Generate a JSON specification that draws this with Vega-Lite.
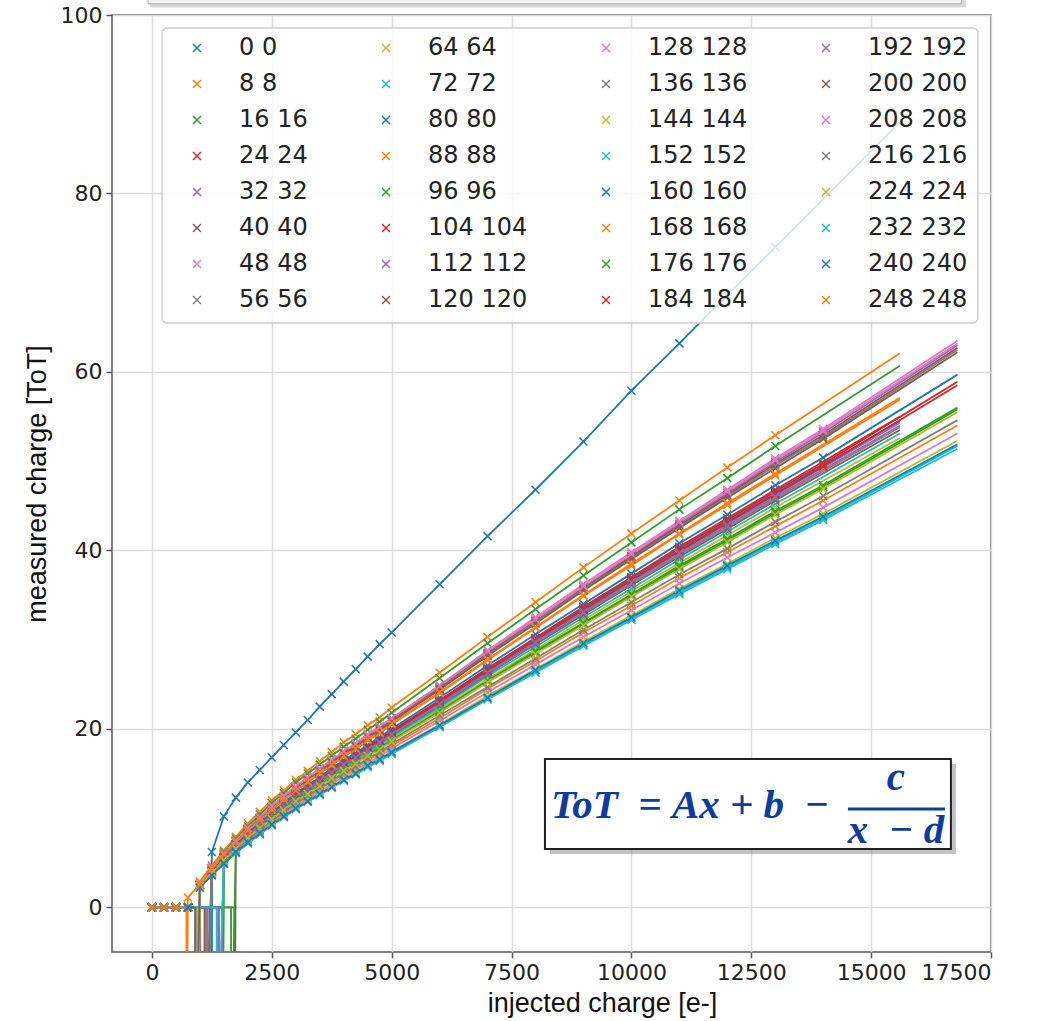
{
"$schema":"https://vega.github.io/schema/vega-lite/v6.json",
"width":879,"height":937,
"autosize":{"type":"none"},
"padding":{"left":112,"top":15,"right":69,"bottom":69},
"background":"white",
"config":{
"view":{"stroke":"#555555","strokeWidth":1.5},
"axis":{"labelFont":"DejaVu Sans","labelFontSize":22,"labelColor":"#222222","titleFont":"Liberation Sans","titleFontSize":27,"titleFontWeight":"normal","titleColor":"#111111","gridColor":"#dcdcdc","gridWidth":1.5,"domain":false,"tickColor":"#555555","tickSize":6,"tickWidth":1.5,"labelPadding":4}
},
"datasets":{"d":[
{"s":0,"x":0,"y":0},{"s":0,"x":250,"y":0},{"s":0,"x":500,"y":0},{"s":0,"x":750,"y":0},{"s":0,"x":1200,"y":0,"k":1},{"s":0,"x":1201,"y":-20,"k":1},
{"s":0,"x":1250,"y":6.2},{"s":0,"x":1500,"y":10.2},{"s":0,"x":1750,"y":12.3},{"s":0,"x":2000,"y":14.0},{"s":0,"x":2250,"y":15.4},{"s":0,"x":2500,"y":16.8},{"s":0,"x":2750,"y":18.2},{"s":0,"x":3000,"y":19.6},{"s":0,"x":3250,"y":21.0},{"s":0,"x":3500,"y":22.5},{"s":0,"x":3750,"y":23.9},{"s":0,"x":4000,"y":25.3},{"s":0,"x":4250,"y":26.7},{"s":0,"x":4500,"y":28.1},{"s":0,"x":4750,"y":29.5},{"s":0,"x":5000,"y":30.8},{"s":0,"x":6000,"y":36.2},{"s":0,"x":7000,"y":41.6},{"s":0,"x":8000,"y":46.8},{"s":0,"x":9000,"y":52.2},{"s":0,"x":10000,"y":57.9},{"s":0,"x":11000,"y":63.2},{"s":0,"x":12000,"y":68.6},{"s":0,"x":13000,"y":74.0},{"s":0,"x":15600,"y":88.0,"k":1},

{"s":8,"x":0,"y":0},{"s":8,"x":250,"y":0},{"s":8,"x":500,"y":0},{"s":8,"x":750,"y":0},{"s":8,"x":950,"y":0,"k":1},{"s":8,"x":951,"y":-20,"k":1},
{"s":8,"x":1000,"y":2.9},{"s":8,"x":1250,"y":4.7},{"s":8,"x":1500,"y":6.4},{"s":8,"x":1750,"y":7.9},{"s":8,"x":2000,"y":9.4},{"s":8,"x":2250,"y":10.7},{"s":8,"x":2500,"y":12.0},{"s":8,"x":2750,"y":13.1},{"s":8,"x":3000,"y":14.3},{"s":8,"x":3250,"y":15.3},{"s":8,"x":3500,"y":16.4},{"s":8,"x":3750,"y":17.4},{"s":8,"x":4000,"y":18.5},{"s":8,"x":4250,"y":19.4},{"s":8,"x":4500,"y":20.4},{"s":8,"x":4750,"y":21.3},{"s":8,"x":5000,"y":22.4},{"s":8,"x":6000,"y":26.3},{"s":8,"x":7000,"y":30.3},{"s":8,"x":8000,"y":34.2},{"s":8,"x":9000,"y":38.1},{"s":8,"x":10000,"y":41.9},{"s":8,"x":11000,"y":45.6},{"s":8,"x":12000,"y":49.3},{"s":8,"x":13000,"y":52.9},{"s":8,"x":15600,"y":62.1,"k":1},

{"s":16,"x":0,"y":0},{"s":16,"x":250,"y":0},{"s":16,"x":500,"y":0},{"s":16,"x":750,"y":0},{"s":16,"x":1480,"y":0,"k":1},{"s":16,"x":1481,"y":-20,"k":1},
{"s":16,"x":1500,"y":6.2},{"s":16,"x":1750,"y":7.7},{"s":16,"x":2000,"y":9.1},{"s":16,"x":2250,"y":10.4},{"s":16,"x":2500,"y":11.7},{"s":16,"x":2750,"y":12.8},{"s":16,"x":3000,"y":14.0},{"s":16,"x":3250,"y":15.0},{"s":16,"x":3500,"y":16.0},{"s":16,"x":3750,"y":17.0},{"s":16,"x":4000,"y":18.0},{"s":16,"x":4250,"y":18.9},{"s":16,"x":4500,"y":19.9},{"s":16,"x":4750,"y":20.8},{"s":16,"x":5000,"y":21.8},{"s":16,"x":6000,"y":25.7},{"s":16,"x":7000,"y":29.6},{"s":16,"x":8000,"y":33.4},{"s":16,"x":9000,"y":37.2},{"s":16,"x":10000,"y":40.9},{"s":16,"x":11000,"y":44.6},{"s":16,"x":12000,"y":48.1},{"s":16,"x":13000,"y":51.7},{"s":16,"x":15600,"y":60.7,"k":1},

{"s":24,"x":0,"y":0},{"s":24,"x":250,"y":0},{"s":24,"x":500,"y":0},{"s":24,"x":750,"y":0},{"s":24,"x":960,"y":0,"k":1},{"s":24,"x":961,"y":-20,"k":1},
{"s":24,"x":1000,"y":2.5},{"s":24,"x":1250,"y":4.1},{"s":24,"x":1500,"y":5.6},{"s":24,"x":1750,"y":7.0},{"s":24,"x":2000,"y":8.2},{"s":24,"x":2250,"y":9.4},{"s":24,"x":2500,"y":10.5},{"s":24,"x":2750,"y":11.6},{"s":24,"x":3000,"y":12.6},{"s":24,"x":3250,"y":13.5},{"s":24,"x":3500,"y":14.4},{"s":24,"x":3750,"y":15.3},{"s":24,"x":4000,"y":16.3},{"s":24,"x":4250,"y":17.1},{"s":24,"x":4500,"y":18.0},{"s":24,"x":4750,"y":18.8},{"s":24,"x":5000,"y":19.7},{"s":24,"x":6000,"y":23.1},{"s":24,"x":7000,"y":26.7},{"s":24,"x":8000,"y":30.1},{"s":24,"x":9000,"y":33.5},{"s":24,"x":10000,"y":36.9},{"s":24,"x":11000,"y":40.2},{"s":24,"x":12000,"y":43.4},{"s":24,"x":13000,"y":46.6},{"s":24,"x":14000,"y":49.7},{"s":24,"x":16800,"y":58.9,"k":1},

{"s":32,"x":0,"y":0},{"s":32,"x":250,"y":0},{"s":32,"x":500,"y":0},{"s":32,"x":750,"y":0},{"s":32,"x":1200,"y":0,"k":1},{"s":32,"x":1201,"y":-20,"k":1},
{"s":32,"x":1250,"y":4.4},{"s":32,"x":1500,"y":6.0},{"s":32,"x":1750,"y":7.5},{"s":32,"x":2000,"y":8.8},{"s":32,"x":2250,"y":10.0},{"s":32,"x":2500,"y":11.3},{"s":32,"x":2750,"y":12.4},{"s":32,"x":3000,"y":13.5},{"s":32,"x":3250,"y":14.5},{"s":32,"x":3500,"y":15.4},{"s":32,"x":3750,"y":16.4},{"s":32,"x":4000,"y":17.4},{"s":32,"x":4250,"y":18.3},{"s":32,"x":4500,"y":19.2},{"s":32,"x":4750,"y":20.1},{"s":32,"x":5000,"y":21.1},{"s":32,"x":6000,"y":24.7},{"s":32,"x":7000,"y":28.5},{"s":32,"x":8000,"y":32.2},{"s":32,"x":9000,"y":35.9},{"s":32,"x":10000,"y":39.4},{"s":32,"x":11000,"y":43.0},{"s":32,"x":12000,"y":46.4},{"s":32,"x":13000,"y":49.9},{"s":32,"x":14000,"y":53.2},{"s":32,"x":16800,"y":63.0,"k":1},

{"s":40,"x":0,"y":0},{"s":40,"x":250,"y":0},{"s":40,"x":500,"y":0},{"s":40,"x":750,"y":0},{"s":40,"x":1720,"y":0,"k":1},{"s":40,"x":1721,"y":-20,"k":1},
{"s":40,"x":1750,"y":7.4},{"s":40,"x":2000,"y":8.8},{"s":40,"x":2250,"y":10.0},{"s":40,"x":2500,"y":11.2},{"s":40,"x":2750,"y":12.3},{"s":40,"x":3000,"y":13.4},{"s":40,"x":3250,"y":14.4},{"s":40,"x":3500,"y":15.4},{"s":40,"x":3750,"y":16.3},{"s":40,"x":4000,"y":17.3},{"s":40,"x":4250,"y":18.2},{"s":40,"x":4500,"y":19.2},{"s":40,"x":4750,"y":20.0},{"s":40,"x":5000,"y":21.0},{"s":40,"x":6000,"y":24.6},{"s":40,"x":7000,"y":28.4},{"s":40,"x":8000,"y":32.1},{"s":40,"x":9000,"y":35.7},{"s":40,"x":10000,"y":39.3},{"s":40,"x":11000,"y":42.8},{"s":40,"x":12000,"y":46.2},{"s":40,"x":13000,"y":49.7},{"s":40,"x":14000,"y":52.9},{"s":40,"x":16800,"y":62.7,"k":1},

{"s":48,"x":0,"y":0},{"s":48,"x":250,"y":0},{"s":48,"x":500,"y":0},{"s":48,"x":750,"y":0},{"s":48,"x":1150,"y":0,"k":1},{"s":48,"x":1151,"y":-20,"k":1},
{"s":48,"x":1250,"y":4.4},{"s":48,"x":1500,"y":6.1},{"s":48,"x":1750,"y":7.5},{"s":48,"x":2000,"y":8.9},{"s":48,"x":2250,"y":10.1},{"s":48,"x":2500,"y":11.4},{"s":48,"x":2750,"y":12.5},{"s":48,"x":3000,"y":13.6},{"s":48,"x":3250,"y":14.6},{"s":48,"x":3500,"y":15.6},{"s":48,"x":3750,"y":16.5},{"s":48,"x":4000,"y":17.5},{"s":48,"x":4250,"y":18.4},{"s":48,"x":4500,"y":19.4},{"s":48,"x":4750,"y":20.3},{"s":48,"x":5000,"y":21.2},{"s":48,"x":6000,"y":24.9},{"s":48,"x":7000,"y":28.8},{"s":48,"x":8000,"y":32.5},{"s":48,"x":9000,"y":36.2},{"s":48,"x":10000,"y":39.8},{"s":48,"x":11000,"y":43.3},{"s":48,"x":12000,"y":46.8},{"s":48,"x":13000,"y":50.3},{"s":48,"x":14000,"y":53.6},{"s":48,"x":16800,"y":63.5,"k":1},

{"s":56,"x":0,"y":0},{"s":56,"x":250,"y":0},{"s":56,"x":500,"y":0},{"s":56,"x":750,"y":0},{"s":56,"x":1100,"y":0,"k":1},{"s":56,"x":1101,"y":-20,"k":1},
{"s":56,"x":1250,"y":4.4},{"s":56,"x":1500,"y":6.0},{"s":56,"x":1750,"y":7.4},{"s":56,"x":2000,"y":8.7},{"s":56,"x":2250,"y":10.0},{"s":56,"x":2500,"y":11.2},{"s":56,"x":2750,"y":12.3},{"s":56,"x":3000,"y":13.4},{"s":56,"x":3250,"y":14.3},{"s":56,"x":3500,"y":15.3},{"s":56,"x":3750,"y":16.3},{"s":56,"x":4000,"y":17.3},{"s":56,"x":4250,"y":18.1},{"s":56,"x":4500,"y":19.1},{"s":56,"x":4750,"y":19.9},{"s":56,"x":5000,"y":20.9},{"s":56,"x":6000,"y":24.5},{"s":56,"x":7000,"y":28.3},{"s":56,"x":8000,"y":32.0},{"s":56,"x":9000,"y":35.6},{"s":56,"x":10000,"y":39.1},{"s":56,"x":11000,"y":42.6},{"s":56,"x":12000,"y":46.0},{"s":56,"x":13000,"y":49.5},{"s":56,"x":14000,"y":52.7},{"s":56,"x":16800,"y":62.5,"k":1},

{"s":64,"x":0,"y":0},{"s":64,"x":250,"y":0},{"s":64,"x":500,"y":0},{"s":64,"x":750,"y":0},{"s":64,"x":930,"y":0,"k":1},{"s":64,"x":931,"y":-20,"k":1},
{"s":64,"x":1000,"y":2.4},{"s":64,"x":1250,"y":4.0},{"s":64,"x":1500,"y":5.4},{"s":64,"x":1750,"y":6.7},{"s":64,"x":2000,"y":7.9},{"s":64,"x":2250,"y":9.0},{"s":64,"x":2500,"y":10.1},{"s":64,"x":2750,"y":11.1},{"s":64,"x":3000,"y":12.1},{"s":64,"x":3250,"y":13.0},{"s":64,"x":3500,"y":13.9},{"s":64,"x":3750,"y":14.7},{"s":64,"x":4000,"y":15.6},{"s":64,"x":4250,"y":16.4},{"s":64,"x":4500,"y":17.3},{"s":64,"x":4750,"y":18.0},{"s":64,"x":5000,"y":18.9},{"s":64,"x":6000,"y":22.2},{"s":64,"x":7000,"y":25.6},{"s":64,"x":8000,"y":28.9},{"s":64,"x":9000,"y":32.2},{"s":64,"x":10000,"y":35.4},{"s":64,"x":11000,"y":38.6},{"s":64,"x":12000,"y":41.7},{"s":64,"x":13000,"y":44.8},{"s":64,"x":15600,"y":52.6,"k":1},

{"s":72,"x":0,"y":0},{"s":72,"x":250,"y":0},{"s":72,"x":500,"y":0},{"s":72,"x":750,"y":0},{"s":72,"x":1230,"y":0,"k":1},{"s":72,"x":1231,"y":-20,"k":1},
{"s":72,"x":1250,"y":4.0},{"s":72,"x":1500,"y":5.4},{"s":72,"x":1750,"y":6.8},{"s":72,"x":2000,"y":8.0},{"s":72,"x":2250,"y":9.1},{"s":72,"x":2500,"y":10.2},{"s":72,"x":2750,"y":11.2},{"s":72,"x":3000,"y":12.2},{"s":72,"x":3250,"y":13.1},{"s":72,"x":3500,"y":14.0},{"s":72,"x":3750,"y":14.9},{"s":72,"x":4000,"y":15.8},{"s":72,"x":4250,"y":16.5},{"s":72,"x":4500,"y":17.4},{"s":72,"x":4750,"y":18.2},{"s":72,"x":5000,"y":19.1},{"s":72,"x":6000,"y":22.4},{"s":72,"x":7000,"y":25.9},{"s":72,"x":8000,"y":29.2},{"s":72,"x":9000,"y":32.5},{"s":72,"x":10000,"y":35.7},{"s":72,"x":11000,"y":39.0},{"s":72,"x":12000,"y":42.1},{"s":72,"x":13000,"y":45.2},{"s":72,"x":15600,"y":53.1,"k":1},

{"s":80,"x":0,"y":0},{"s":80,"x":250,"y":0},{"s":80,"x":500,"y":0},{"s":80,"x":750,"y":0},{"s":80,"x":1210,"y":0,"k":1},{"s":80,"x":1211,"y":-20,"k":1},
{"s":80,"x":1250,"y":4.1},{"s":80,"x":1500,"y":5.6},{"s":80,"x":1750,"y":7.0},{"s":80,"x":2000,"y":8.2},{"s":80,"x":2250,"y":9.3},{"s":80,"x":2500,"y":10.5},{"s":80,"x":2750,"y":11.5},{"s":80,"x":3000,"y":12.5},{"s":80,"x":3250,"y":13.5},{"s":80,"x":3500,"y":14.4},{"s":80,"x":3750,"y":15.3},{"s":80,"x":4000,"y":16.2},{"s":80,"x":4250,"y":17.0},{"s":80,"x":4500,"y":17.9},{"s":80,"x":4750,"y":18.7},{"s":80,"x":5000,"y":19.6},{"s":80,"x":6000,"y":23.0},{"s":80,"x":7000,"y":26.6},{"s":80,"x":8000,"y":30.0},{"s":80,"x":9000,"y":33.4},{"s":80,"x":10000,"y":36.7},{"s":80,"x":11000,"y":40.0},{"s":80,"x":12000,"y":43.2},{"s":80,"x":13000,"y":46.4},{"s":80,"x":15600,"y":54.5,"k":1},

{"s":88,"x":0,"y":0},{"s":88,"x":250,"y":0},{"s":88,"x":500,"y":0},{"s":88,"x":750,"y":0},{"s":88,"x":920,"y":0,"k":1},{"s":88,"x":921,"y":-20,"k":1},
{"s":88,"x":1000,"y":2.3},{"s":88,"x":1250,"y":3.8},{"s":88,"x":1500,"y":5.1},{"s":88,"x":1750,"y":6.4},{"s":88,"x":2000,"y":7.6},{"s":88,"x":2250,"y":8.6},{"s":88,"x":2500,"y":9.7},{"s":88,"x":2750,"y":10.6},{"s":88,"x":3000,"y":11.6},{"s":88,"x":3250,"y":12.4},{"s":88,"x":3500,"y":13.2},{"s":88,"x":3750,"y":14.1},{"s":88,"x":4000,"y":14.9},{"s":88,"x":4250,"y":15.6},{"s":88,"x":4500,"y":16.5},{"s":88,"x":4750,"y":17.2},{"s":88,"x":5000,"y":18.1},{"s":88,"x":6000,"y":21.2},{"s":88,"x":7000,"y":24.5},{"s":88,"x":8000,"y":27.6},{"s":88,"x":9000,"y":30.8},{"s":88,"x":10000,"y":33.8},{"s":88,"x":11000,"y":36.9},{"s":88,"x":12000,"y":39.8},{"s":88,"x":13000,"y":42.7},{"s":88,"x":14000,"y":45.6},{"s":88,"x":16800,"y":54.0,"k":1},

{"s":96,"x":0,"y":0},{"s":96,"x":250,"y":0},{"s":96,"x":500,"y":0},{"s":96,"x":750,"y":0},{"s":96,"x":1650,"y":0,"k":1},{"s":96,"x":1651,"y":-20,"k":1},
{"s":96,"x":1750,"y":6.6},{"s":96,"x":2000,"y":7.8},{"s":96,"x":2250,"y":8.9},{"s":96,"x":2500,"y":10.0},{"s":96,"x":2750,"y":11.0},{"s":96,"x":3000,"y":11.9},{"s":96,"x":3250,"y":12.8},{"s":96,"x":3500,"y":13.7},{"s":96,"x":3750,"y":14.5},{"s":96,"x":4000,"y":15.4},{"s":96,"x":4250,"y":16.2},{"s":96,"x":4500,"y":17.0},{"s":96,"x":4750,"y":17.8},{"s":96,"x":5000,"y":18.7},{"s":96,"x":6000,"y":21.9},{"s":96,"x":7000,"y":25.3},{"s":96,"x":8000,"y":28.5},{"s":96,"x":9000,"y":31.8},{"s":96,"x":10000,"y":34.9},{"s":96,"x":11000,"y":38.1},{"s":96,"x":12000,"y":41.1},{"s":96,"x":13000,"y":44.2},{"s":96,"x":14000,"y":47.1},{"s":96,"x":16800,"y":55.8,"k":1},

{"s":104,"x":0,"y":0},{"s":104,"x":250,"y":0},{"s":104,"x":500,"y":0},{"s":104,"x":750,"y":0},{"s":104,"x":980,"y":0,"k":1},{"s":104,"x":981,"y":-20,"k":1},
{"s":104,"x":1000,"y":2.5},{"s":104,"x":1250,"y":4.1},{"s":104,"x":1500,"y":5.6},{"s":104,"x":1750,"y":7.0},{"s":104,"x":2000,"y":8.3},{"s":104,"x":2250,"y":9.4},{"s":104,"x":2500,"y":10.6},{"s":104,"x":2750,"y":11.6},{"s":104,"x":3000,"y":12.7},{"s":104,"x":3250,"y":13.6},{"s":104,"x":3500,"y":14.5},{"s":104,"x":3750,"y":15.4},{"s":104,"x":4000,"y":16.3},{"s":104,"x":4250,"y":17.1},{"s":104,"x":4500,"y":18.1},{"s":104,"x":4750,"y":18.9},{"s":104,"x":5000,"y":19.8},{"s":104,"x":6000,"y":23.2},{"s":104,"x":7000,"y":26.8},{"s":104,"x":8000,"y":30.2},{"s":104,"x":9000,"y":33.7},{"s":104,"x":10000,"y":37.0},{"s":104,"x":11000,"y":40.4},{"s":104,"x":12000,"y":43.6},{"s":104,"x":13000,"y":46.8},{"s":104,"x":15600,"y":55.0,"k":1},

{"s":112,"x":0,"y":0},{"s":112,"x":250,"y":0},{"s":112,"x":500,"y":0},{"s":112,"x":750,"y":0},{"s":112,"x":1380,"y":0,"k":1},{"s":112,"x":1381,"y":-20,"k":1},
{"s":112,"x":1500,"y":5.6},{"s":112,"x":1750,"y":6.9},{"s":112,"x":2000,"y":8.2},{"s":112,"x":2250,"y":9.3},{"s":112,"x":2500,"y":10.4},{"s":112,"x":2750,"y":11.5},{"s":112,"x":3000,"y":12.5},{"s":112,"x":3250,"y":13.4},{"s":112,"x":3500,"y":14.3},{"s":112,"x":3750,"y":15.2},{"s":112,"x":4000,"y":16.1},{"s":112,"x":4250,"y":16.9},{"s":112,"x":4500,"y":17.8},{"s":112,"x":4750,"y":18.6},{"s":112,"x":5000,"y":19.5},{"s":112,"x":6000,"y":22.9},{"s":112,"x":7000,"y":26.4},{"s":112,"x":8000,"y":29.9},{"s":112,"x":9000,"y":33.3},{"s":112,"x":10000,"y":36.5},{"s":112,"x":11000,"y":39.8},{"s":112,"x":12000,"y":43.0},{"s":112,"x":13000,"y":46.2},{"s":112,"x":15600,"y":54.3,"k":1},

{"s":120,"x":0,"y":0},{"s":120,"x":250,"y":0},{"s":120,"x":500,"y":0},{"s":120,"x":750,"y":0},{"s":120,"x":1240,"y":0,"k":1},{"s":120,"x":1241,"y":-20,"k":1},
{"s":120,"x":1250,"y":4.0},{"s":120,"x":1500,"y":5.5},{"s":120,"x":1750,"y":6.8},{"s":120,"x":2000,"y":8.1},{"s":120,"x":2250,"y":9.2},{"s":120,"x":2500,"y":10.3},{"s":120,"x":2750,"y":11.3},{"s":120,"x":3000,"y":12.3},{"s":120,"x":3250,"y":13.2},{"s":120,"x":3500,"y":14.1},{"s":120,"x":3750,"y":15.0},{"s":120,"x":4000,"y":15.9},{"s":120,"x":4250,"y":16.7},{"s":120,"x":4500,"y":17.6},{"s":120,"x":4750,"y":18.4},{"s":120,"x":5000,"y":19.3},{"s":120,"x":6000,"y":22.6},{"s":120,"x":7000,"y":26.1},{"s":120,"x":8000,"y":29.5},{"s":120,"x":9000,"y":32.8},{"s":120,"x":10000,"y":36.1},{"s":120,"x":11000,"y":39.3},{"s":120,"x":12000,"y":42.4},{"s":120,"x":13000,"y":45.6},{"s":120,"x":15600,"y":53.5,"k":1},

{"s":128,"x":0,"y":0},{"s":128,"x":250,"y":0},{"s":128,"x":500,"y":0},{"s":128,"x":750,"y":0},{"s":128,"x":1120,"y":0,"k":1},{"s":128,"x":1121,"y":-20,"k":1},
{"s":128,"x":1250,"y":3.7},{"s":128,"x":1500,"y":5.1},{"s":128,"x":1750,"y":6.3},{"s":128,"x":2000,"y":7.4},{"s":128,"x":2250,"y":8.5},{"s":128,"x":2500,"y":9.5},{"s":128,"x":2750,"y":10.4},{"s":128,"x":3000,"y":11.4},{"s":128,"x":3250,"y":12.2},{"s":128,"x":3500,"y":13.0},{"s":128,"x":3750,"y":13.8},{"s":128,"x":4000,"y":14.7},{"s":128,"x":4250,"y":15.4},{"s":128,"x":4500,"y":16.2},{"s":128,"x":4750,"y":16.9},{"s":128,"x":5000,"y":17.8},{"s":128,"x":6000,"y":20.9},{"s":128,"x":7000,"y":24.1},{"s":128,"x":8000,"y":27.2},{"s":128,"x":9000,"y":30.3},{"s":128,"x":10000,"y":33.3},{"s":128,"x":11000,"y":36.3},{"s":128,"x":12000,"y":39.2},{"s":128,"x":13000,"y":42.0},{"s":128,"x":14000,"y":44.8},{"s":128,"x":16800,"y":53.1,"k":1},

{"s":136,"x":0,"y":0},{"s":136,"x":250,"y":0},{"s":136,"x":500,"y":0},{"s":136,"x":750,"y":0},{"s":136,"x":970,"y":0,"k":1},{"s":136,"x":971,"y":-20,"k":1},
{"s":136,"x":1000,"y":2.5},{"s":136,"x":1250,"y":4.1},{"s":136,"x":1500,"y":5.5},{"s":136,"x":1750,"y":6.9},{"s":136,"x":2000,"y":8.1},{"s":136,"x":2250,"y":9.2},{"s":136,"x":2500,"y":10.4},{"s":136,"x":2750,"y":11.4},{"s":136,"x":3000,"y":12.4},{"s":136,"x":3250,"y":13.3},{"s":136,"x":3500,"y":14.2},{"s":136,"x":3750,"y":15.1},{"s":136,"x":4000,"y":16.0},{"s":136,"x":4250,"y":16.8},{"s":136,"x":4500,"y":17.7},{"s":136,"x":4750,"y":18.5},{"s":136,"x":5000,"y":19.4},{"s":136,"x":6000,"y":22.7},{"s":136,"x":7000,"y":26.2},{"s":136,"x":8000,"y":29.6},{"s":136,"x":9000,"y":33.0},{"s":136,"x":10000,"y":36.2},{"s":136,"x":11000,"y":39.5},{"s":136,"x":12000,"y":42.6},{"s":136,"x":13000,"y":45.8},{"s":136,"x":15600,"y":53.8,"k":1},

{"s":144,"x":0,"y":0},{"s":144,"x":250,"y":0},{"s":144,"x":500,"y":0},{"s":144,"x":750,"y":0},{"s":144,"x":940,"y":0,"k":1},{"s":144,"x":941,"y":-20,"k":1},
{"s":144,"x":1000,"y":2.2},{"s":144,"x":1250,"y":3.7},{"s":144,"x":1500,"y":5.0},{"s":144,"x":1750,"y":6.2},{"s":144,"x":2000,"y":7.3},{"s":144,"x":2250,"y":8.3},{"s":144,"x":2500,"y":9.4},{"s":144,"x":2750,"y":10.3},{"s":144,"x":3000,"y":11.2},{"s":144,"x":3250,"y":12.0},{"s":144,"x":3500,"y":12.8},{"s":144,"x":3750,"y":13.6},{"s":144,"x":4000,"y":14.4},{"s":144,"x":4250,"y":15.2},{"s":144,"x":4500,"y":16.0},{"s":144,"x":4750,"y":16.7},{"s":144,"x":5000,"y":17.5},{"s":144,"x":6000,"y":20.5},{"s":144,"x":7000,"y":23.7},{"s":144,"x":8000,"y":26.7},{"s":144,"x":9000,"y":29.8},{"s":144,"x":10000,"y":32.7},{"s":144,"x":11000,"y":35.7},{"s":144,"x":12000,"y":38.5},{"s":144,"x":13000,"y":41.4},{"s":144,"x":14000,"y":44.1},{"s":144,"x":16800,"y":52.3,"k":1},

{"s":152,"x":0,"y":0},{"s":152,"x":250,"y":0},{"s":152,"x":500,"y":0},{"s":152,"x":750,"y":0},{"s":152,"x":1240,"y":0,"k":1},{"s":152,"x":1241,"y":-20,"k":1},
{"s":152,"x":1250,"y":3.6},{"s":152,"x":1500,"y":4.9},{"s":152,"x":1750,"y":6.1},{"s":152,"x":2000,"y":7.2},{"s":152,"x":2250,"y":8.2},{"s":152,"x":2500,"y":9.2},{"s":152,"x":2750,"y":10.1},{"s":152,"x":3000,"y":11.0},{"s":152,"x":3250,"y":11.8},{"s":152,"x":3500,"y":12.6},{"s":152,"x":3750,"y":13.4},{"s":152,"x":4000,"y":14.2},{"s":152,"x":4250,"y":14.9},{"s":152,"x":4500,"y":15.7},{"s":152,"x":4750,"y":16.4},{"s":152,"x":5000,"y":17.2},{"s":152,"x":6000,"y":20.2},{"s":152,"x":7000,"y":23.3},{"s":152,"x":8000,"y":26.3},{"s":152,"x":9000,"y":29.3},{"s":152,"x":10000,"y":32.2},{"s":152,"x":11000,"y":35.1},{"s":152,"x":12000,"y":37.9},{"s":152,"x":13000,"y":40.7},{"s":152,"x":14000,"y":43.4},{"s":152,"x":16800,"y":51.4,"k":1},

{"s":160,"x":0,"y":0},{"s":160,"x":250,"y":0},{"s":160,"x":500,"y":0},{"s":160,"x":750,"y":0},{"s":160,"x":1230,"y":0,"k":1},{"s":160,"x":1231,"y":-20,"k":1},
{"s":160,"x":1250,"y":4.2},{"s":160,"x":1500,"y":5.7},{"s":160,"x":1750,"y":7.1},{"s":160,"x":2000,"y":8.4},{"s":160,"x":2250,"y":9.5},{"s":160,"x":2500,"y":10.7},{"s":160,"x":2750,"y":11.7},{"s":160,"x":3000,"y":12.8},{"s":160,"x":3250,"y":13.7},{"s":160,"x":3500,"y":14.6},{"s":160,"x":3750,"y":15.6},{"s":160,"x":4000,"y":16.5},{"s":160,"x":4250,"y":17.3},{"s":160,"x":4500,"y":18.2},{"s":160,"x":4750,"y":19.1},{"s":160,"x":5000,"y":20.0},{"s":160,"x":6000,"y":23.5},{"s":160,"x":7000,"y":27.1},{"s":160,"x":8000,"y":30.6},{"s":160,"x":9000,"y":34.0},{"s":160,"x":10000,"y":37.4},{"s":160,"x":11000,"y":40.8},{"s":160,"x":12000,"y":44.0},{"s":160,"x":13000,"y":47.3},{"s":160,"x":14000,"y":50.4},{"s":160,"x":16800,"y":59.7,"k":1},

{"s":168,"x":0,"y":0},{"s":168,"x":250,"y":0},{"s":168,"x":500,"y":0},{"s":168,"x":750,"y":0},{"s":168,"x":920,"y":0,"k":1},{"s":168,"x":921,"y":-20,"k":1},
{"s":168,"x":1000,"y":2.6},{"s":168,"x":1250,"y":4.3},{"s":168,"x":1500,"y":5.8},{"s":168,"x":1750,"y":7.3},{"s":168,"x":2000,"y":8.6},{"s":168,"x":2250,"y":9.8},{"s":168,"x":2500,"y":10.9},{"s":168,"x":2750,"y":12.0},{"s":168,"x":3000,"y":13.1},{"s":168,"x":3250,"y":14.0},{"s":168,"x":3500,"y":15.0},{"s":168,"x":3750,"y":15.9},{"s":168,"x":4000,"y":16.9},{"s":168,"x":4250,"y":17.7},{"s":168,"x":4500,"y":18.7},{"s":168,"x":4750,"y":19.5},{"s":168,"x":5000,"y":20.5},{"s":168,"x":6000,"y":24.0},{"s":168,"x":7000,"y":27.7},{"s":168,"x":8000,"y":31.3},{"s":168,"x":9000,"y":34.9},{"s":168,"x":10000,"y":38.3},{"s":168,"x":11000,"y":41.8},{"s":168,"x":12000,"y":45.1},{"s":168,"x":13000,"y":48.4},{"s":168,"x":15600,"y":56.9,"k":1},

{"s":176,"x":0,"y":0},{"s":176,"x":250,"y":0},{"s":176,"x":500,"y":0},{"s":176,"x":750,"y":0},{"s":176,"x":1460,"y":0,"k":1},{"s":176,"x":1461,"y":-20,"k":1},
{"s":176,"x":1500,"y":5.3},{"s":176,"x":1750,"y":6.6},{"s":176,"x":2000,"y":7.8},{"s":176,"x":2250,"y":8.9},{"s":176,"x":2500,"y":10.0},{"s":176,"x":2750,"y":11.0},{"s":176,"x":3000,"y":12.0},{"s":176,"x":3250,"y":12.9},{"s":176,"x":3500,"y":13.7},{"s":176,"x":3750,"y":14.6},{"s":176,"x":4000,"y":15.5},{"s":176,"x":4250,"y":16.2},{"s":176,"x":4500,"y":17.1},{"s":176,"x":4750,"y":17.9},{"s":176,"x":5000,"y":18.7},{"s":176,"x":6000,"y":22.0},{"s":176,"x":7000,"y":25.4},{"s":176,"x":8000,"y":28.7},{"s":176,"x":9000,"y":31.9},{"s":176,"x":10000,"y":35.1},{"s":176,"x":11000,"y":38.3},{"s":176,"x":12000,"y":41.3},{"s":176,"x":13000,"y":44.4},{"s":176,"x":14000,"y":47.3},{"s":176,"x":16800,"y":56.0,"k":1},

{"s":184,"x":0,"y":0},{"s":184,"x":250,"y":0},{"s":184,"x":500,"y":0},{"s":184,"x":750,"y":0},{"s":184,"x":990,"y":0,"k":1},{"s":184,"x":991,"y":-20,"k":1},
{"s":184,"x":1000,"y":2.5},{"s":184,"x":1250,"y":4.1},{"s":184,"x":1500,"y":5.6},{"s":184,"x":1750,"y":6.9},{"s":184,"x":2000,"y":8.2},{"s":184,"x":2250,"y":9.3},{"s":184,"x":2500,"y":10.5},{"s":184,"x":2750,"y":11.5},{"s":184,"x":3000,"y":12.5},{"s":184,"x":3250,"y":13.4},{"s":184,"x":3500,"y":14.3},{"s":184,"x":3750,"y":15.2},{"s":184,"x":4000,"y":16.2},{"s":184,"x":4250,"y":17.0},{"s":184,"x":4500,"y":17.9},{"s":184,"x":4750,"y":18.7},{"s":184,"x":5000,"y":19.6},{"s":184,"x":6000,"y":23.0},{"s":184,"x":7000,"y":26.5},{"s":184,"x":8000,"y":29.9},{"s":184,"x":9000,"y":33.3},{"s":184,"x":10000,"y":36.6},{"s":184,"x":11000,"y":39.9},{"s":184,"x":12000,"y":43.1},{"s":184,"x":13000,"y":46.3},{"s":184,"x":14000,"y":49.4},{"s":184,"x":16800,"y":58.5,"k":1},

{"s":192,"x":0,"y":0},{"s":192,"x":250,"y":0},{"s":192,"x":500,"y":0},{"s":192,"x":750,"y":0},{"s":192,"x":1400,"y":0,"k":1},{"s":192,"x":1401,"y":-20,"k":1},
{"s":192,"x":1500,"y":5.5},{"s":192,"x":1750,"y":6.9},{"s":192,"x":2000,"y":8.1},{"s":192,"x":2250,"y":9.3},{"s":192,"x":2500,"y":10.4},{"s":192,"x":2750,"y":11.4},{"s":192,"x":3000,"y":12.4},{"s":192,"x":3250,"y":13.3},{"s":192,"x":3500,"y":14.2},{"s":192,"x":3750,"y":15.1},{"s":192,"x":4000,"y":16.0},{"s":192,"x":4250,"y":16.8},{"s":192,"x":4500,"y":17.7},{"s":192,"x":4750,"y":18.5},{"s":192,"x":5000,"y":19.4},{"s":192,"x":6000,"y":22.8},{"s":192,"x":7000,"y":26.3},{"s":192,"x":8000,"y":29.7},{"s":192,"x":9000,"y":33.1},{"s":192,"x":10000,"y":36.4},{"s":192,"x":11000,"y":39.7},{"s":192,"x":12000,"y":42.8},{"s":192,"x":13000,"y":46.0},{"s":192,"x":15600,"y":54.0,"k":1},

{"s":200,"x":0,"y":0},{"s":200,"x":250,"y":0},{"s":200,"x":500,"y":0},{"s":200,"x":750,"y":0},{"s":200,"x":1100,"y":0,"k":1},{"s":200,"x":1101,"y":-20,"k":1},
{"s":200,"x":1250,"y":4.4},{"s":200,"x":1500,"y":5.9},{"s":200,"x":1750,"y":7.4},{"s":200,"x":2000,"y":8.7},{"s":200,"x":2250,"y":9.9},{"s":200,"x":2500,"y":11.1},{"s":200,"x":2750,"y":12.2},{"s":200,"x":3000,"y":13.3},{"s":200,"x":3250,"y":14.3},{"s":200,"x":3500,"y":15.2},{"s":200,"x":3750,"y":16.2},{"s":200,"x":4000,"y":17.2},{"s":200,"x":4250,"y":18.0},{"s":200,"x":4500,"y":19.0},{"s":200,"x":4750,"y":19.8},{"s":200,"x":5000,"y":20.8},{"s":200,"x":6000,"y":24.4},{"s":200,"x":7000,"y":28.2},{"s":200,"x":8000,"y":31.8},{"s":200,"x":9000,"y":35.5},{"s":200,"x":10000,"y":39.0},{"s":200,"x":11000,"y":42.5},{"s":200,"x":12000,"y":45.9},{"s":200,"x":13000,"y":49.2},{"s":200,"x":14000,"y":52.5},{"s":200,"x":16800,"y":62.2,"k":1},

{"s":208,"x":0,"y":0},{"s":208,"x":250,"y":0},{"s":208,"x":500,"y":0},{"s":208,"x":750,"y":0},{"s":208,"x":960,"y":0,"k":1},{"s":208,"x":961,"y":-20,"k":1},
{"s":208,"x":1000,"y":2.7},{"s":208,"x":1250,"y":4.4},{"s":208,"x":1500,"y":6.0},{"s":208,"x":1750,"y":7.5},{"s":208,"x":2000,"y":8.9},{"s":208,"x":2250,"y":10.1},{"s":208,"x":2500,"y":11.3},{"s":208,"x":2750,"y":12.4},{"s":208,"x":3000,"y":13.5},{"s":208,"x":3250,"y":14.5},{"s":208,"x":3500,"y":15.5},{"s":208,"x":3750,"y":16.5},{"s":208,"x":4000,"y":17.5},{"s":208,"x":4250,"y":18.3},{"s":208,"x":4500,"y":19.3},{"s":208,"x":4750,"y":20.2},{"s":208,"x":5000,"y":21.2},{"s":208,"x":6000,"y":24.8},{"s":208,"x":7000,"y":28.7},{"s":208,"x":8000,"y":32.3},{"s":208,"x":9000,"y":36.0},{"s":208,"x":10000,"y":39.6},{"s":208,"x":11000,"y":43.2},{"s":208,"x":12000,"y":46.6},{"s":208,"x":13000,"y":50.1},{"s":208,"x":14000,"y":53.4},{"s":208,"x":16800,"y":63.2,"k":1},

{"s":216,"x":0,"y":0},{"s":216,"x":250,"y":0},{"s":216,"x":500,"y":0},{"s":216,"x":750,"y":0},{"s":216,"x":1150,"y":0,"k":1},{"s":216,"x":1151,"y":-20,"k":1},
{"s":216,"x":1250,"y":3.8},{"s":216,"x":1500,"y":5.2},{"s":216,"x":1750,"y":6.5},{"s":216,"x":2000,"y":7.6},{"s":216,"x":2250,"y":8.7},{"s":216,"x":2500,"y":9.8},{"s":216,"x":2750,"y":10.7},{"s":216,"x":3000,"y":11.7},{"s":216,"x":3250,"y":12.5},{"s":216,"x":3500,"y":13.4},{"s":216,"x":3750,"y":14.2},{"s":216,"x":4000,"y":15.1},{"s":216,"x":4250,"y":15.8},{"s":216,"x":4500,"y":16.7},{"s":216,"x":4750,"y":17.4},{"s":216,"x":5000,"y":18.3},{"s":216,"x":6000,"y":21.5},{"s":216,"x":7000,"y":24.7},{"s":216,"x":8000,"y":27.9},{"s":216,"x":9000,"y":31.1},{"s":216,"x":10000,"y":34.2},{"s":216,"x":11000,"y":37.3},{"s":216,"x":12000,"y":40.2},{"s":216,"x":13000,"y":43.2},{"s":216,"x":14000,"y":46.1},{"s":216,"x":16800,"y":54.6,"k":1},

{"s":224,"x":0,"y":0},{"s":224,"x":250,"y":0},{"s":224,"x":500,"y":0},{"s":224,"x":750,"y":0},{"s":224,"x":960,"y":0,"k":1},{"s":224,"x":961,"y":-20,"k":1},
{"s":224,"x":1000,"y":2.4},{"s":224,"x":1250,"y":3.9},{"s":224,"x":1500,"y":5.3},{"s":224,"x":1750,"y":6.6},{"s":224,"x":2000,"y":7.8},{"s":224,"x":2250,"y":8.9},{"s":224,"x":2500,"y":9.9},{"s":224,"x":2750,"y":10.9},{"s":224,"x":3000,"y":11.9},{"s":224,"x":3250,"y":12.7},{"s":224,"x":3500,"y":13.6},{"s":224,"x":3750,"y":14.5},{"s":224,"x":4000,"y":15.3},{"s":224,"x":4250,"y":16.1},{"s":224,"x":4500,"y":17.0},{"s":224,"x":4750,"y":17.7},{"s":224,"x":5000,"y":18.6},{"s":224,"x":6000,"y":21.8},{"s":224,"x":7000,"y":25.2},{"s":224,"x":8000,"y":28.4},{"s":224,"x":9000,"y":31.6},{"s":224,"x":10000,"y":34.8},{"s":224,"x":11000,"y":37.9},{"s":224,"x":12000,"y":40.9},{"s":224,"x":13000,"y":44.0},{"s":224,"x":14000,"y":46.9},{"s":224,"x":16800,"y":55.5,"k":1},

{"s":232,"x":0,"y":0},{"s":232,"x":250,"y":0},{"s":232,"x":500,"y":0},{"s":232,"x":750,"y":0},{"s":232,"x":1350,"y":0,"k":1},{"s":232,"x":1351,"y":-20,"k":1},
{"s":232,"x":1500,"y":4.9},{"s":232,"x":1750,"y":6.1},{"s":232,"x":2000,"y":7.2},{"s":232,"x":2250,"y":8.2},{"s":232,"x":2500,"y":9.2},{"s":232,"x":2750,"y":10.2},{"s":232,"x":3000,"y":11.1},{"s":232,"x":3250,"y":11.9},{"s":232,"x":3500,"y":12.7},{"s":232,"x":3750,"y":13.5},{"s":232,"x":4000,"y":14.3},{"s":232,"x":4250,"y":15.0},{"s":232,"x":4500,"y":15.8},{"s":232,"x":4750,"y":16.5},{"s":232,"x":5000,"y":17.3},{"s":232,"x":6000,"y":20.3},{"s":232,"x":7000,"y":23.4},{"s":232,"x":8000,"y":26.4},{"s":232,"x":9000,"y":29.4},{"s":232,"x":10000,"y":32.4},{"s":232,"x":11000,"y":35.3},{"s":232,"x":12000,"y":38.1},{"s":232,"x":13000,"y":40.9},{"s":232,"x":14000,"y":43.6},{"s":232,"x":16800,"y":51.7,"k":1},

{"s":240,"x":0,"y":0},{"s":240,"x":250,"y":0},{"s":240,"x":500,"y":0},{"s":240,"x":750,"y":0},{"s":240,"x":900,"y":0,"k":1},{"s":240,"x":901,"y":-20,"k":1},
{"s":240,"x":1000,"y":2.2},{"s":240,"x":1250,"y":3.6},{"s":240,"x":1500,"y":4.9},{"s":240,"x":1750,"y":6.2},{"s":240,"x":2000,"y":7.3},{"s":240,"x":2250,"y":8.3},{"s":240,"x":2500,"y":9.3},{"s":240,"x":2750,"y":10.2},{"s":240,"x":3000,"y":11.1},{"s":240,"x":3250,"y":11.9},{"s":240,"x":3500,"y":12.7},{"s":240,"x":3750,"y":13.5},{"s":240,"x":4000,"y":14.3},{"s":240,"x":4250,"y":15.0},{"s":240,"x":4500,"y":15.9},{"s":240,"x":4750,"y":16.6},{"s":240,"x":5000,"y":17.4},{"s":240,"x":6000,"y":20.4},{"s":240,"x":7000,"y":23.5},{"s":240,"x":8000,"y":26.6},{"s":240,"x":9000,"y":29.6},{"s":240,"x":10000,"y":32.5},{"s":240,"x":11000,"y":35.5},{"s":240,"x":12000,"y":38.3},{"s":240,"x":13000,"y":41.1},{"s":240,"x":14000,"y":43.8},{"s":240,"x":16800,"y":51.9,"k":1},

{"s":248,"x":0,"y":0},{"s":248,"x":250,"y":0},{"s":248,"x":500,"y":0},{"s":248,"x":720,"y":0,"k":1},{"s":248,"x":721,"y":-20,"k":1},
{"s":248,"x":750,"y":1.1},{"s":248,"x":1000,"y":2.6},{"s":248,"x":1250,"y":4.3},{"s":248,"x":1500,"y":5.9},{"s":248,"x":1750,"y":7.3},{"s":248,"x":2000,"y":8.6},{"s":248,"x":2250,"y":9.8},{"s":248,"x":2500,"y":11.0},{"s":248,"x":2750,"y":12.1},{"s":248,"x":3000,"y":13.1},{"s":248,"x":3250,"y":14.1},{"s":248,"x":3500,"y":15.1},{"s":248,"x":3750,"y":16.0},{"s":248,"x":4000,"y":17.0},{"s":248,"x":4250,"y":17.8},{"s":248,"x":4500,"y":18.8},{"s":248,"x":4750,"y":19.6},{"s":248,"x":5000,"y":20.6},{"s":248,"x":6000,"y":24.1},{"s":248,"x":7000,"y":27.8},{"s":248,"x":8000,"y":31.4},{"s":248,"x":9000,"y":35.0},{"s":248,"x":10000,"y":38.5},{"s":248,"x":11000,"y":41.9},{"s":248,"x":12000,"y":45.3},{"s":248,"x":13000,"y":48.6},{"s":248,"x":15600,"y":57.1,"k":1}
]},
"layer":[
{"data":{"name":"d"},"mark":{"type":"line","clip":true,"strokeWidth":1.8},
 "encoding":{
  "x":{"field":"x","type":"quantitative","scale":{"domain":[-833,17500],"nice":false,"zero":false},"axis":{"title":"injected charge [e-]","values":[0,2500,5000,7500,10000,12500,15000,17500],"format":"d","titleX":490,"titlePadding":7}},
  "y":{"field":"y","type":"quantitative","scale":{"domain":[-5,100],"nice":false,"zero":false},"axis":{"title":"measured charge [ToT]","values":[0,20,40,60,80,100],"format":"d","titlePadding":9}},
  "color":{"field":"s","type":"nominal","scale":{"domain":[0,8,16,24,32,40,48,56,64,72,80,88,96,104,112,120,128,136,144,152,160,168,176,184,192,200,208,216,224,232,240,248],"range":["#1f77b4","#ff7f0e","#2ca02c","#d62728","#9467bd","#8c564b","#e377c2","#7f7f7f","#bcbd22","#17becf","#1f77b4","#ff7f0e","#2ca02c","#d62728","#9467bd","#8c564b","#e377c2","#7f7f7f","#bcbd22","#17becf","#1f77b4","#ff7f0e","#2ca02c","#d62728","#9467bd","#8c564b","#e377c2","#7f7f7f","#bcbd22","#17becf","#1f77b4","#ff7f0e"]}}
 }},
{"data":{"name":"d"},"transform":[{"filter":"!datum.k"}],
 "mark":{"type":"point","shape":"M-1,-1L1,1M-1,1L1,-1","size":64,"filled":false,"strokeWidth":1.5,"opacity":1},
 "encoding":{
  "x":{"field":"x","type":"quantitative"},
  "y":{"field":"y","type":"quantitative"},
  "color":{"field":"s","type":"nominal",
   "legend":{"title":null,"orient":"none","legendX":73,"legendY":21,"columns":4,"columnPadding":66,"rowPadding":12,"padding":0,"symbolLimit":0,"labelFont":"DejaVu Sans","labelFontSize":24,"labelColor":"#222222","labelOffset":30,"symbolType":"M-1,-1L1,1M-1,1L1,-1","symbolSize":64,"symbolStrokeWidth":1.5,"labelExpr":"datum.label + ' ' + datum.label","labelLimit":0}}
 }},
{"data":{"values":[{}]},"mark":{"type":"rect","fill":"white","fillOpacity":0.8,"stroke":"#cccccc","strokeWidth":1.5,"cornerRadius":5},
 "encoding":{"x":{"datum":210,"type":"quantitative"},"x2":{"datum":17227},"y":{"datum":98.54,"type":"quantitative"},"y2":{"datum":65.49}}},
{"data":{"values":[{}]},"mark":{"type":"rect","fill":"#cfcfcf","opacity":0.8},
 "encoding":{"x":{"datum":-40,"type":"quantitative"},"x2":{"datum":16977},"y":{"datum":100.85,"type":"quantitative"},"y2":{"datum":101.7}}},
{"data":{"values":[{}]},"mark":{"type":"rect","fill":"#f3f3f3","stroke":"#aaaaaa","strokeWidth":1},
 "encoding":{"x":{"datum":-82,"type":"quantitative"},"x2":{"datum":16880},"y":{"datum":101.25,"type":"quantitative"},"y2":{"datum":102.5}}},
{"data":{"values":[{}]},"mark":{"type":"rect","fill":"#777777","opacity":0.45},
 "encoding":{"x":{"datum":8301,"type":"quantitative"},"x2":{"datum":16768},"y":{"datum":16.07,"type":"quantitative"},"y2":{"datum":5.98}}},
{"data":{"values":[{}]},"mark":{"type":"rect","fill":"white","stroke":"#222222","strokeWidth":2},
 "encoding":{"x":{"datum":8197,"type":"quantitative"},"x2":{"datum":16664},"y":{"datum":16.63,"type":"quantitative"},"y2":{"datum":6.54}}},
{"data":{"values":[{}]},"mark":{"type":"rule","stroke":"#0e3c9e","strokeWidth":3},
 "encoding":{"x":{"datum":14516,"type":"quantitative"},"x2":{"datum":16539},"y":{"datum":11.03,"type":"quantitative"}}},
{"data":{"values":[{}]},"mark":{"type":"text","text":"ToT\u00a0\u00a0=\u00a0Ax\u00a0+\u00a0b\u00a0\u00a0−","align":"left","baseline":"alphabetic","font":"Liberation Serif","fontStyle":"italic","fontWeight":"bold","fontSize":41,"fill":"#0e3c9e"},
 "encoding":{"x":{"datum":8322,"type":"quantitative"},"y":{"datum":10.02,"type":"quantitative"}}},
{"data":{"values":[{}]},"mark":{"type":"text","text":"c","align":"center","baseline":"alphabetic","font":"Liberation Serif","fontStyle":"italic","fontWeight":"bold","fontSize":41,"fill":"#0e3c9e"},
 "encoding":{"x":{"datum":15517,"type":"quantitative"},"y":{"datum":13.15,"type":"quantitative"}}},
{"data":{"values":[{}]},"mark":{"type":"text","text":"x\u00a0\u00a0−\u00a0d","align":"center","baseline":"alphabetic","font":"Liberation Serif","fontStyle":"italic","fontWeight":"bold","fontSize":41,"fill":"#0e3c9e"},
 "encoding":{"x":{"datum":15517,"type":"quantitative"},"y":{"datum":7.22,"type":"quantitative"}}}
]
}
